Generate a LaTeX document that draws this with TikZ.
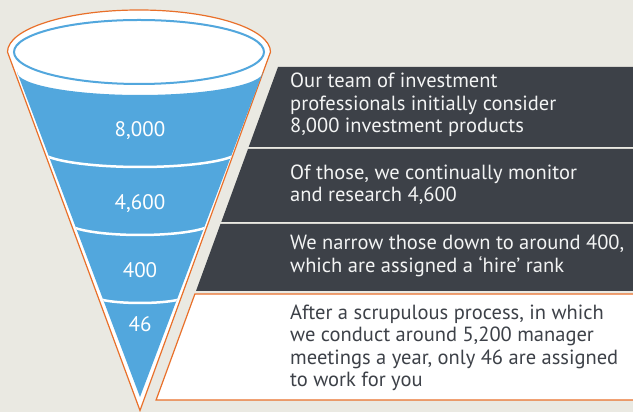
\documentclass[tikz,border=0pt]{standalone}
\usepackage{fontspec}
\setmainfont{PT Sans}
\usetikzlibrary{positioning}
\usepackage{xcolor}
\definecolor{FunnelBlue}{HTML}{52A7DD}
\definecolor{FunnelOrange}{HTML}{E9702A}
\definecolor{PanelGrey}{HTML}{3D4148}
\definecolor{PaperGrey}{HTML}{EAE9E2}

\begin{document}
\begin{tikzpicture}[x=1pt, y=1pt,
    count/.style={font=\fontsize{21}{22}\selectfont, text=white, inner sep=0pt},
    blurb/.style={font=\fontsize{20.5}{22.5}\selectfont, align=left, anchor=west, inner sep=0pt}]
    % Background
    \fill[PaperGrey] (0,0) rectangle (633,412);
    \clip (0,0) rectangle (633,412);

    % Funnel outline
    \filldraw[fill=white, draw=FunnelOrange, line width=1.2pt]
        (7.5,360) arc (180:0:131.5pt and 42pt) -- (140,1.5) -- cycle;

    % Funnel body and bands
    \fill[FunnelBlue] (263,340) arc (0:-180:123pt and 23pt) -- (140,15) -- cycle;
    \begin{scope}
        \clip (263,340) arc (0:-180:123pt and 23pt) -- (140,15) -- cycle;
        \draw[white, line width=2.5pt] (240,262) arc (0:-180:100pt and 17pt);
        \draw[white, line width=2.5pt] (213,190) arc (0:-180:73pt and 13pt);
        \draw[white, line width=2.5pt] (185,116) arc (0:-180:45pt and 7pt);
    \end{scope}

    % Rim
    \filldraw[fill=white, draw=FunnelBlue, line width=2pt] (139,360) ellipse (125pt and 32pt);

    % Counts
    \node[count] (first) at (140,281) {8,000};
    \node[count] (second) at (140,208) {4,600};
    \node[count] (third) at (140,142) {400};
    \node[count] (fourth) at (140,88) {46};

    % Panels
    \fill[PanelGrey] (278,345) -- (640,345) -- (640,265) -- (248.7,265) -- cycle;
    \fill[PanelGrey] (248,263) -- (640,263) -- (640,190) -- (221.3,190) -- cycle;
    \fill[PanelGrey] (220.5,188) -- (640,188) -- (640,121) -- (196,121) -- cycle;
    \filldraw[fill=white, draw=FunnelOrange, line width=1.2pt]
        (640,118) -- (194.9,118) -- (156.1,12) -- (640,12);

    % Panel texts
    \node[blurb, text=white!94!PanelGrey] (considered) at (290,307)
        {Our team of investment\\professionals initially consider\\8,000 investment products};
    \node[blurb, text=white!94!PanelGrey] (monitored) at (290,227.5)
        {Of those, we continually monitor\\and research 4,600};
    \node[blurb, text=white!94!PanelGrey] (hired) at (290,156)
        {We narrow those down to around 400,\\which are assigned a ‘hire’ rank};
    \node[blurb, text=PanelGrey] (assigned) at (290,64)
        {After a scrupulous process, in which\\we conduct around 5,200 manager\\meetings a year, only 46 are assigned\\to work for you};
\end{tikzpicture}
\end{document}
